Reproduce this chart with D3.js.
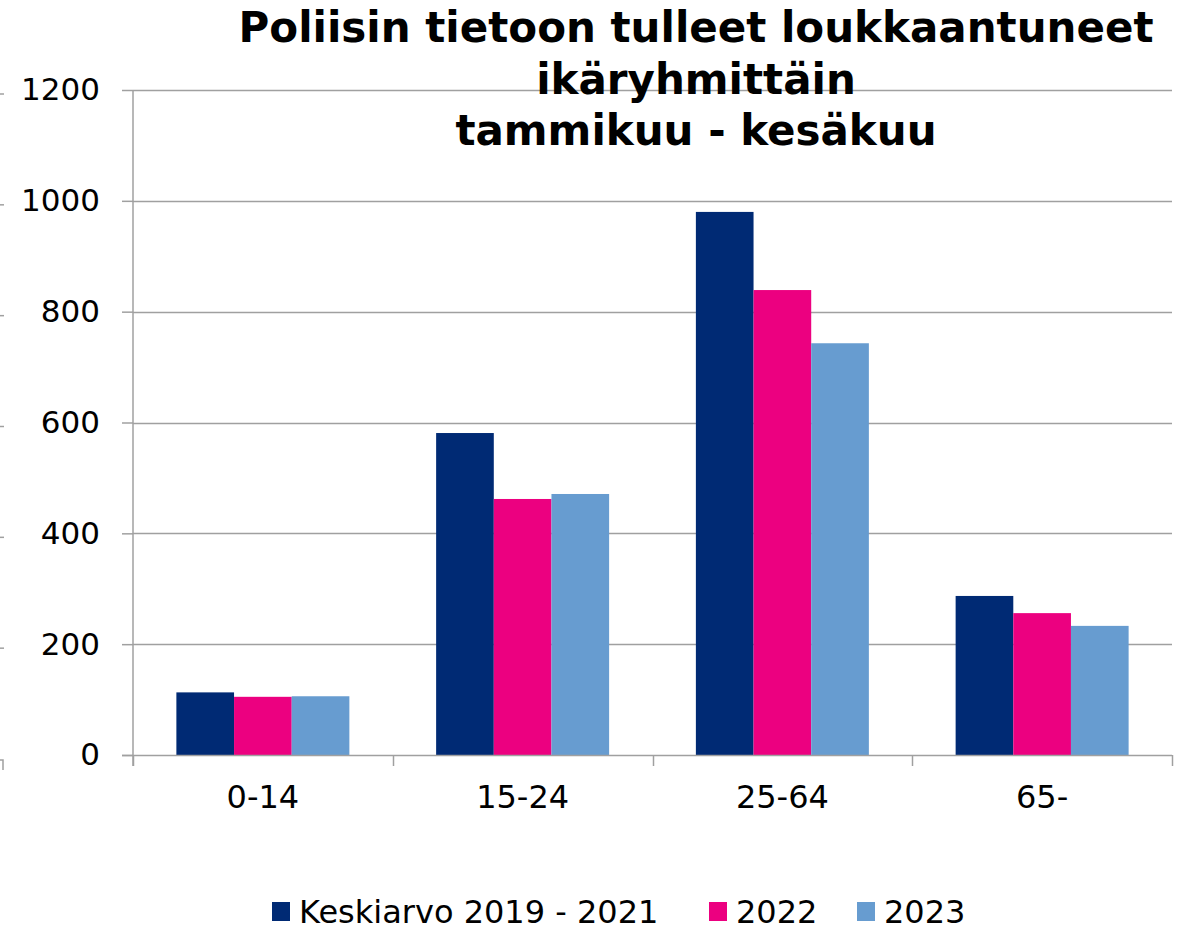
<!DOCTYPE html>
<html>
<head>
<meta charset="utf-8">
<script src="https://cdn.jsdelivr.net/npm/d3@7"></script>
<style>
  body { margin: 0; background: #fff; }
  svg { display: block; }
</style>
</head>
<body>
<svg id="chart" width="1192" height="930"></svg>
<script>
// Data
const categories = ['0-14', '15-24', '25-64', '65-'];
const seriesNames = ['Keskiarvo 2019 - 2021', '2022', '2023'];
const avg2019to2021 = [113, 581, 980, 287];
const values2022 = [105, 462, 839, 256];
const values2023 = [106, 471, 743, 233];
const yTicks = [0, 200, 400, 600, 800, 1000, 1200];
const titleLines = ['Poliisin tietoon tulleet loukkaantuneet', 'ikäryhmittäin', 'tammikuu - kesäkuu'];

const colors = ['#002A74', '#EC0080', '#679CD0'];
const series = [avg2019to2021, values2022, values2023];

const svg = d3.select('#chart');
const plot = { left: 133, right: 1172, top: 90, bottom: 755 };
const axisColor = '#a0a0a0';
const font = 'DejaVu Sans, Verdana, sans-serif';

const x = d3.scaleBand().domain(categories).range([plot.left, plot.right]).paddingInner(0.334).paddingOuter(0.167);
const xInner = d3.scaleBand().domain(d3.range(series.length)).range([0, x.bandwidth()]);
const y = d3.scaleLinear().domain([0, 1200]).range([plot.bottom, plot.top]);

// Gridlines
svg.append('g')
  .selectAll('line')
  .data(yTicks.filter((d) => d > 0))
  .join('line')
  .attr('x1', plot.left)
  .attr('x2', plot.right)
  .attr('y1', (d) => Math.round(y(d)) + 0.5)
  .attr('y2', (d) => Math.round(y(d)) + 0.5)
  .attr('stroke', axisColor)
  .attr('stroke-width', 1.5);

// Bars
series.forEach((vals, s) => {
  svg.append('g')
    .selectAll('rect')
    .data(vals)
    .join('rect')
    .attr('x', (d, i) => x(categories[i]) + xInner(s))
    .attr('y', (d) => y(d))
    .attr('width', xInner.bandwidth())
    .attr('height', (d) => y(0) - y(d))
    .attr('fill', colors[s]);
});

// Y axis
const yAxis = svg.append('g')
  .attr('transform', `translate(${plot.left},0)`)
  .call(d3.axisLeft(y).tickValues(yTicks).tickFormat(d3.format('d')).tickSize(11).tickPadding(22));
yAxis.select('.domain').attr('d', `M0,${plot.top}V${plot.bottom + 11}`);
yAxis.selectAll('line, .domain').attr('stroke', axisColor).attr('stroke-width', 1.5);
yAxis.selectAll('text')
  .attr('font-family', font)
  .attr('font-size', 31)
  .attr('fill', '#000');

// X axis with ticks at category boundaries
const xAxis = svg.append('g').attr('transform', `translate(0,${plot.bottom})`);
xAxis.append('line')
  .attr('x1', plot.left - 11)
  .attr('x2', plot.right)
  .attr('y1', 0.5)
  .attr('y2', 0.5)
  .attr('stroke', axisColor)
  .attr('stroke-width', 1.5);
const boundaries = categories.map((c) => x(c) - x.step() * x.paddingInner() / 2).concat([plot.right]);
xAxis.selectAll('line.tick')
  .data(boundaries)
  .join('line')
  .attr('class', 'tick')
  .attr('x1', (d) => Math.round(d) + 0.5)
  .attr('x2', (d) => Math.round(d) + 0.5)
  .attr('y1', 0)
  .attr('y2', 11)
  .attr('stroke', axisColor)
  .attr('stroke-width', 1.5);
xAxis.selectAll('text')
  .data(categories)
  .join('text')
  .attr('x', (d) => x(d) + x.bandwidth() / 2)
  .attr('y', 53)
  .attr('text-anchor', 'middle')
  .attr('font-family', font)
  .attr('font-size', 32)
  .text((d) => d);

// Stray ticks on the far left edge
const stray = svg.append('g').attr('stroke', axisColor).attr('stroke-width', 1.5);
stray.selectAll('line')
  .data(yTicks.filter((d) => d > 0))
  .join('line')
  .attr('x1', 0)
  .attr('x2', 4)
  .attr('y1', (d) => y(d) + 4)
  .attr('y2', (d) => y(d) + 4);
stray.append('path')
  .attr('d', `M0,${plot.bottom + 5}H3V${plot.bottom + 15}`)
  .attr('fill', 'none');

// Title
svg.append('text')
  .attr('font-family', font)
  .attr('font-weight', 'bold')
  .attr('font-size', 42)
  .attr('text-anchor', 'middle')
  .selectAll('tspan')
  .data(titleLines)
  .join('tspan')
  .attr('x', 696)
  .attr('y', (d, i) => 42 + i * 51.5)
  .text((d) => d);

// Legend
const legendX = [272, 709, 857];
seriesNames.forEach((name, i) => {
  const g = svg.append('g').attr('transform', `translate(${legendX[i]},912)`);
  g.append('rect')
    .attr('x', 0)
    .attr('y', -10)
    .attr('width', 18)
    .attr('height', 19)
    .attr('fill', colors[i]);
  g.append('text')
    .attr('x', 27)
    .attr('y', 11)
    .attr('font-family', font)
    .attr('font-size', 32)
    .text(name);
});
</script>
</body>
</html>
